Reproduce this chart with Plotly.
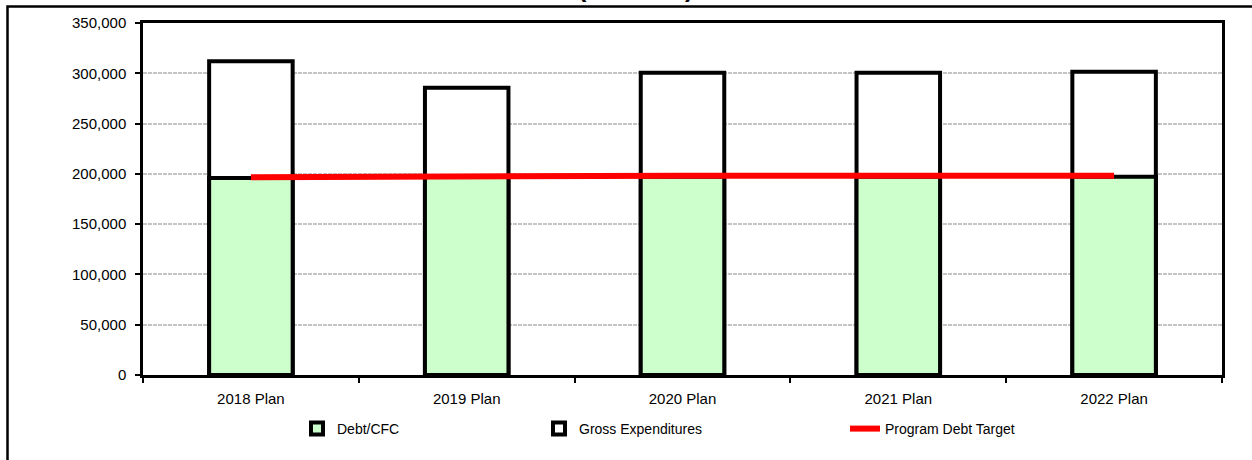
import plotly.graph_objects as go

categories = ["2018 Plan", "2019 Plan", "2020 Plan", "2021 Plan", "2022 Plan"]
gross_expenditures = [312000, 285500, 300500, 300500, 301500]
debt_cfc = [196000, 197000, 197000, 197000, 197000]
program_debt_target = [196600, 198100, 198200, 198200, 198100]

FONT = "Liberation Sans, Arial, sans-serif"

# plot-area pixel geometry
L, R, T, B = 143, 1222, 23, 375
W, H = R - L, B - T

def px_x(px):
    return (px - L) / W

def px_y(py):
    return (B - py) / H

fig = go.Figure()

fig.add_trace(go.Bar(
    x=categories, y=gross_expenditures, name="Gross Expenditures",
    width=0.387,
    marker=dict(color="#FFFFFF", line=dict(color="#000000", width=4)),
    legend="legend2",
))
fig.add_trace(go.Bar(
    x=categories, y=debt_cfc, name="Debt/CFC",
    width=0.387,
    marker=dict(color="#CCFFCC", line=dict(color="#000000", width=4)),
    legend="legend",
))
fig.add_trace(go.Scatter(
    x=categories, y=program_debt_target, name="Program Debt Target",
    mode="lines", line=dict(color="#FF0000", width=6),
    legend="legend3",
))

leg_common = dict(orientation="h", yanchor="middle", xanchor="left",
                  font=dict(family=FONT, size=14, color="#000000"),
                  bgcolor="rgba(0,0,0,0)", borderwidth=0)

fig.update_layout(
    width=1252, height=460,
    margin=dict(l=L, r=1252 - R, t=T, b=460 - B, autoexpand=False),
    paper_bgcolor="#FFFFFF", plot_bgcolor="#FFFFFF",
    barmode="overlay",
    font=dict(family=FONT, size=15, color="#000000"),
    showlegend=True,
    legend=dict(x=px_x(297), y=px_y(429), **leg_common),
    legend2=dict(x=px_x(539), y=px_y(429), **leg_common),
    legend3=dict(x=px_x(845), y=px_y(429), **leg_common),
    xaxis=dict(
        type="category", range=[-0.5, 4.5],
        showline=True, linecolor="#000000", linewidth=2.5, mirror=True,
        ticks="outside", tickson="boundaries", ticklen=5, tickwidth=2,
        tickcolor="#000000", showgrid=False, ticklabelstandoff=8,
        tickfont=dict(family=FONT, size=15, color="#000000"),
    ),
    yaxis=dict(
        range=[0, 350000], dtick=50000, tickformat=",",
        showline=True, linecolor="#000000", linewidth=2.5, mirror=True,
        ticks="outside", ticklen=5, tickwidth=2, tickcolor="#000000",
        ticklabelstandoff=6,
        showgrid=True, gridcolor="#C4C4C4", gridwidth=2, griddash="4px,1px",
        zeroline=False,
        tickfont=dict(family=FONT, size=15, color="#000000"),
    ),
    shapes=[
        dict(type="rect", xref="paper", yref="paper",
             x0=px_x(7.5), x1=px_x(1270), y0=px_y(480), y1=px_y(6.5),
             line=dict(color="#000000", width=2.5), fillcolor="rgba(0,0,0,0)",
             layer="below"),
    ],
    annotations=[
        dict(text="<b>(in $000s)</b>", xref="paper", yref="paper",
             x=px_x(635), y=px_y(4), xanchor="center", yanchor="bottom",
             showarrow=False, font=dict(family=FONT, size=25, color="#000000")),
    ],
)

fig.write_html("out.html")
